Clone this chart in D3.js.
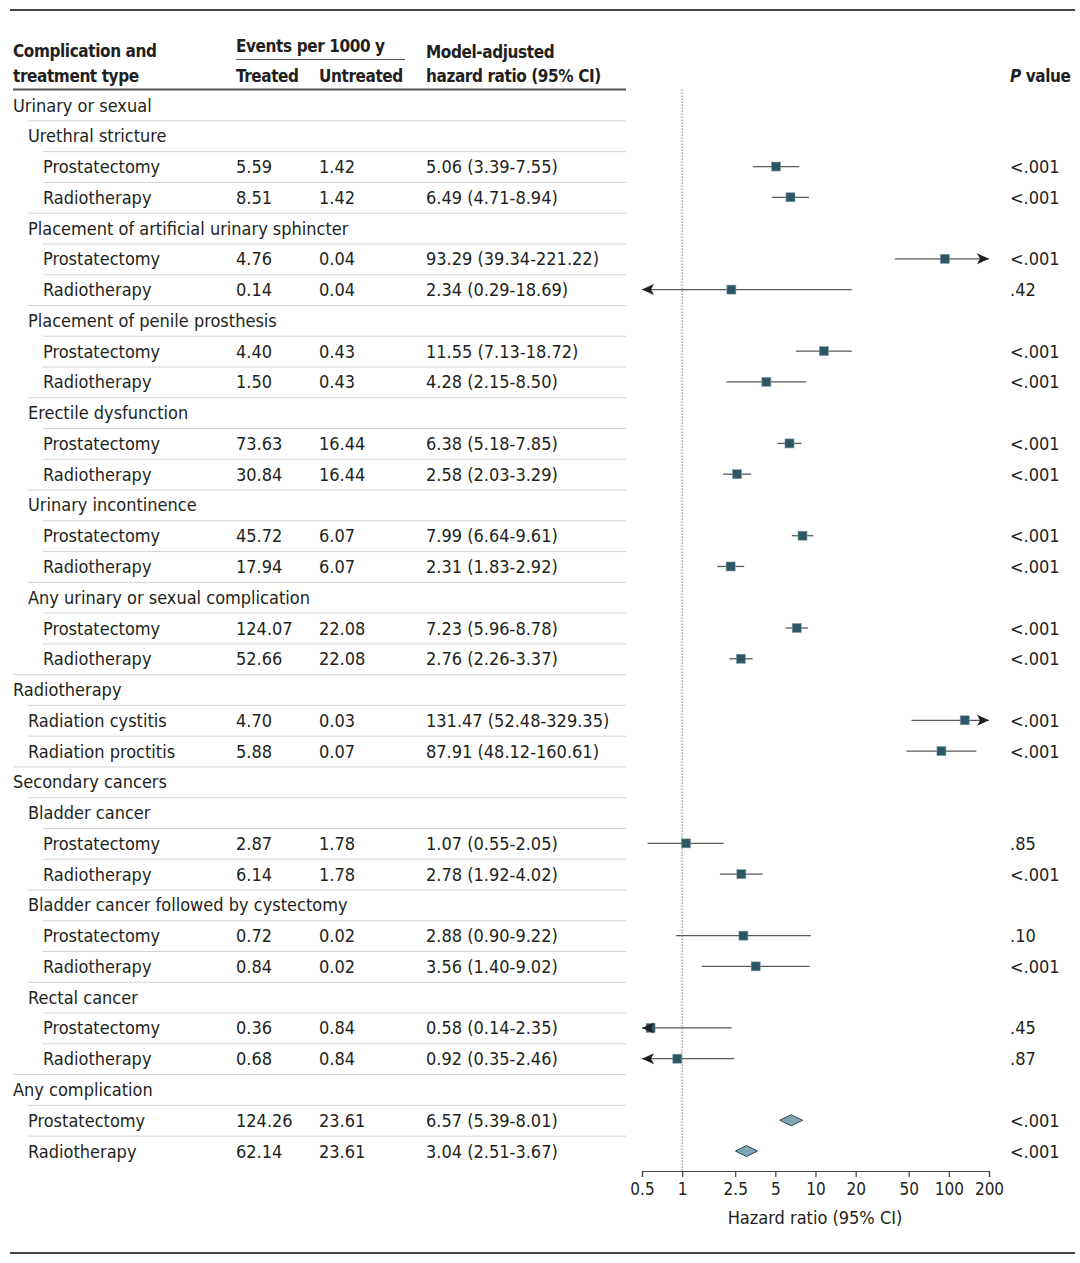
<!DOCTYPE html>
<html>
<head>
<meta charset="utf-8">
<script src="https://cdn.jsdelivr.net/npm/d3@7"></script>
<style>
  body { margin: 0; background: #fff; }
  text { font-family: "Liberation Sans Narrow", "DejaVu Sans Condensed", Roboto, sans-serif; }
</style>
</head>
<body>
<div id="chart"></div>
<script>
const rowLabels = ["Urinary or sexual", "Urethral stricture", "Prostatectomy", "Radiotherapy",
  "Placement of artificial urinary sphincter", "Prostatectomy", "Radiotherapy",
  "Placement of penile prosthesis", "Prostatectomy", "Radiotherapy",
  "Erectile dysfunction", "Prostatectomy", "Radiotherapy",
  "Urinary incontinence", "Prostatectomy", "Radiotherapy",
  "Any urinary or sexual complication", "Prostatectomy", "Radiotherapy",
  "Radiotherapy", "Radiation cystitis", "Radiation proctitis",
  "Secondary cancers", "Bladder cancer", "Prostatectomy", "Radiotherapy",
  "Bladder cancer followed by cystectomy", "Prostatectomy", "Radiotherapy",
  "Rectal cancer", "Prostatectomy", "Radiotherapy",
  "Any complication", "Prostatectomy", "Radiotherapy"];
const rowLevels = [0,1,2,2, 1,2,2, 1,2,2, 1,2,2, 1,2,2, 1,2,2, 0,1,1, 0,1,2,2, 1,2,2, 1,2,2, 0,1,1];
const treated = [null,null,5.59,8.51, null,4.76,0.14, null,4.40,1.50, null,73.63,30.84, null,45.72,17.94,
  null,124.07,52.66, null,4.70,5.88, null,null,2.87,6.14, null,0.72,0.84, null,0.36,0.68, null,124.26,62.14];
const untreated = [null,null,1.42,1.42, null,0.04,0.04, null,0.43,0.43, null,16.44,16.44, null,6.07,6.07,
  null,22.08,22.08, null,0.03,0.07, null,null,1.78,1.78, null,0.02,0.02, null,0.84,0.84, null,23.61,23.61];
const hr = [null,null,5.06,6.49, null,93.29,2.34, null,11.55,4.28, null,6.38,2.58, null,7.99,2.31,
  null,7.23,2.76, null,131.47,87.91, null,null,1.07,2.78, null,2.88,3.56, null,0.58,0.92, null,6.57,3.04];
const ciLow = [null,null,3.39,4.71, null,39.34,0.29, null,7.13,2.15, null,5.18,2.03, null,6.64,1.83,
  null,5.96,2.26, null,52.48,48.12, null,null,0.55,1.92, null,0.90,1.40, null,0.14,0.35, null,5.39,2.51];
const ciHigh = [null,null,7.55,8.94, null,221.22,18.69, null,18.72,8.50, null,7.85,3.29, null,9.61,2.92,
  null,8.78,3.37, null,329.35,160.61, null,null,2.05,4.02, null,9.22,9.02, null,2.35,2.46, null,8.01,3.67];
const pValues = [null,null,"<.001","<.001", null,"<.001",".42", null,"<.001","<.001", null,"<.001","<.001",
  null,"<.001","<.001", null,"<.001","<.001", null,"<.001","<.001", null,null,".85","<.001",
  null,".10","<.001", null,".45",".87", null,"<.001","<.001"];
const pooledRows = [33, 34];
const axisTicks = [0.5, 1, 2.5, 5, 10, 20, 50, 100, 200];

const width = 1080, height = 1263;
const ink = "#231f20";
const fmt = d3.format(".2f");

const svg = d3.select("#chart").append("svg")
  .attr("width", width)
  .attr("height", height);

const xScale = d3.scaleLog()
  .domain([0.5, 200])
  .range([642, 989]);

const yScale = d3.scalePoint()
  .domain(d3.range(rowLabels.length))
  .range([105, 1151]);

const step = yScale.step();
const indent = [13, 28, 43];

// top and bottom rules
svg.append("line").attr("x1", 10).attr("x2", 1075).attr("y1", 10).attr("y2", 10)
  .attr("stroke", "#444").attr("stroke-width", 2);
svg.append("line").attr("x1", 10).attr("x2", 1075).attr("y1", 1253).attr("y2", 1253)
  .attr("stroke", "#444").attr("stroke-width", 2);

// header
const header = svg.append("g")
  .attr("fill", ink)
  .attr("font-size", 17)
  .attr("font-weight", 600)
  .attr("letter-spacing", -0.4);

header.append("text").text("Complication and").attr("x", 13).attr("y", 57);
header.append("text").text("treatment type").attr("x", 13).attr("y", 82);
header.append("text").text("Events per 1000 y").attr("x", 236).attr("y", 52);
header.append("line").attr("x1", 236).attr("x2", 405).attr("y1", 59.5).attr("y2", 59.5)
  .attr("stroke", "#555").attr("stroke-width", 1);
header.append("text").text("Treated").attr("x", 236).attr("y", 82);
header.append("text").text("Untreated").attr("x", 319).attr("y", 82);
header.append("text").text("Model-adjusted").attr("x", 426).attr("y", 58);
header.append("text").text("hazard ratio (95% CI)").attr("x", 426).attr("y", 82);

const pHead = header.append("text").attr("x", 1010).attr("y", 82);
pHead.append("tspan").text("P").attr("font-style", "italic");
pHead.append("tspan").text(" value");

svg.append("line").attr("x1", 13).attr("x2", 626)
  .attr("y1", yScale(0) - step / 2).attr("y2", yScale(0) - step / 2)
  .attr("stroke", "#555").attr("stroke-width", 2);

// row separators
svg.append("g").selectAll("line")
  .data(d3.range(1, rowLabels.length))
  .join("line")
  .attr("x1", i => indent[rowLevels[i]])
  .attr("x2", 626)
  .attr("y1", i => yScale(i) - step / 2 + 0.5)
  .attr("y2", i => yScale(i) - step / 2 + 0.5)
  .attr("stroke", "#d4d4d4")
  .attr("stroke-width", 1);

// table text
const rows = svg.append("g")
  .attr("fill", ink)
  .attr("font-size", 18)
  .selectAll("g")
  .data(d3.range(rowLabels.length))
  .join("g")
  .attr("transform", i => `translate(0,${yScale(i) + 6.5})`);

rows.append("text").attr("x", i => indent[rowLevels[i]]).text(i => rowLabels[i]);
rows.append("text").attr("x", 236).text(i => treated[i] == null ? "" : fmt(treated[i]));
rows.append("text").attr("x", 319).text(i => untreated[i] == null ? "" : fmt(untreated[i]));
rows.append("text").attr("x", 426)
  .text(i => hr[i] == null ? "" : `${fmt(hr[i])} (${fmt(ciLow[i])}-${fmt(ciHigh[i])})`);
rows.append("text").attr("x", 1010).text(i => pValues[i] || "");

// reference line at 1
svg.append("line")
  .attr("x1", xScale(1)).attr("x2", xScale(1))
  .attr("y1", yScale(0) - step / 2).attr("y2", 1171)
  .attr("stroke", "#333").attr("stroke-width", 1)
  .attr("stroke-dasharray", "1,2");

// x-axis
const xAxis = d3.axisBottom(xScale)
  .tickValues(axisTicks)
  .tickFormat(d => d)
  .tickSize(6)
  .tickPadding(6);

const xAxisGroup = svg.append("g")
  .attr("transform", "translate(0,1171)")
  .call(xAxis);

xAxisGroup.select(".domain").attr("stroke", "#444").attr("stroke-width", 1.2);
xAxisGroup.selectAll(".tick line").attr("stroke", "#444").attr("stroke-width", 1.2);
xAxisGroup.selectAll(".tick text")
  .attr("fill", ink)
  .attr("font-size", 17)
  .attr("font-family", null);

svg.append("text")
  .text("Hazard ratio (95% CI)")
  .attr("x", 815).attr("y", 1224)
  .attr("text-anchor", "middle")
  .attr("fill", ink)
  .attr("font-size", 18);

// confidence intervals
const ciRows = d3.range(rowLabels.length).filter(i => hr[i] != null && !pooledRows.includes(i));
const [dMin, dMax] = xScale.domain();
const plot = svg.append("g");

plot.selectAll(".ci")
  .data(ciRows)
  .join("line")
  .attr("class", "ci")
  .attr("x1", i => xScale(Math.max(ciLow[i], dMin)))
  .attr("x2", i => xScale(Math.min(ciHigh[i], dMax)))
  .attr("y1", i => yScale(i))
  .attr("y2", i => yScale(i))
  .attr("stroke", "#5a5a5a")
  .attr("stroke-width", 1.3);

// squares
const sq = 9;
plot.selectAll(".pt")
  .data(ciRows)
  .join("rect")
  .attr("class", "pt")
  .attr("x", i => xScale(hr[i]) - sq / 2)
  .attr("y", i => yScale(i) - sq / 2)
  .attr("width", sq)
  .attr("height", sq)
  .attr("fill", "#2b5766")
  .attr("stroke", "#7f9aa3")
  .attr("stroke-width", 0.6);

// arrows for truncated CIs
const arrowRight = ciRows.filter(i => ciHigh[i] > dMax);
const arrowLeft = ciRows.filter(i => ciLow[i] < dMin);

plot.selectAll(".ar")
  .data(arrowRight)
  .join("path")
  .attr("class", "ar")
  .attr("d", i => {
    const x = xScale(dMax), y = yScale(i);
    return `M${x},${y} L${x - 12},${y - 5.5} L${x - 9},${y} L${x - 12},${y + 5.5} Z`;
  })
  .attr("fill", "#1f1f1f");

plot.selectAll(".al")
  .data(arrowLeft)
  .join("path")
  .attr("class", "al")
  .attr("d", i => {
    const x = xScale(dMin), y = yScale(i);
    return `M${x},${y} L${x + 12},${y - 5.5} L${x + 9},${y} L${x + 12},${y + 5.5} Z`;
  })
  .attr("fill", "#1f1f1f");

// pooled diamonds
plot.selectAll(".dia")
  .data(pooledRows)
  .join("path")
  .attr("class", "dia")
  .attr("d", i => {
    const y = yScale(i);
    return `M${xScale(ciLow[i])},${y} L${xScale(hr[i])},${y - 5.5} L${xScale(ciHigh[i])},${y} L${xScale(hr[i])},${y + 5.5} Z`;
  })
  .attr("fill", "#7fa6b1")
  .attr("stroke", "#2b4a55")
  .attr("stroke-width", 1);
</script>
</body>
</html>
